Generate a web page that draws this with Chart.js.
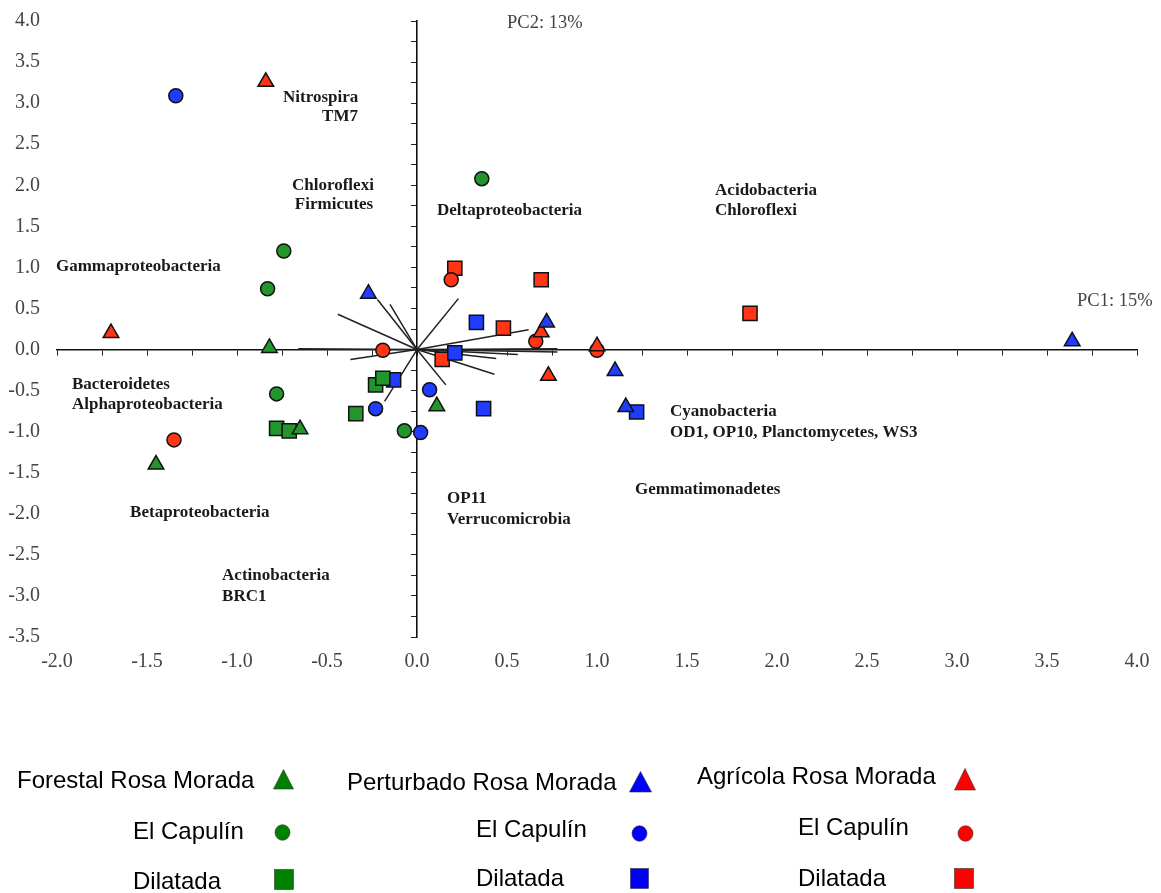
<!DOCTYPE html>
<html>
<head>
<meta charset="utf-8">
<script src="https://cdn.jsdelivr.net/npm/chart.js@4.4.1/dist/chart.umd.min.js"></script>
<style>
body { margin: 0; background: #fff; }
#wrap { position: relative; width: 1161px; height: 893px; }
#wrap canvas { position: absolute; left: 0; top: 0; }
.lg { position: absolute; font-family: "Liberation Sans", Arial, sans-serif; font-size: 24px; color: #000; line-height: 28px; white-space: nowrap; }
.mk { position: absolute; }
</style>
</head>
<body>
<div id="wrap">
  <canvas id="pca"></canvas>

  <!-- legend -->
  <div class="lg" style="left:17px; top:766px;">Forestal Rosa Morada</div>
  <div class="lg" style="left:347px; top:768px;">Perturbado Rosa Morada</div>
  <div class="lg" style="left:697px; top:762px;">Agrícola Rosa Morada</div>
  <div class="lg" style="left:133px; top:817px;">El Capulín</div>
  <div class="lg" style="left:476px; top:815px;">El Capulín</div>
  <div class="lg" style="left:798px; top:813px;">El Capulín</div>
  <div class="lg" style="left:133px; top:867px;">Dilatada</div>
  <div class="lg" style="left:476px; top:864px;">Dilatada</div>
  <div class="lg" style="left:798px; top:864px;">Dilatada</div>

  <svg class="mk" style="left:273px; top:769px;" width="21" height="21"><polygon points="10.5,0.5 20.5,20 0.5,20" fill="#008000" stroke="#333" stroke-width="0.6"/></svg>
  <svg class="mk" style="left:629px; top:771px;" width="23" height="22"><polygon points="11.5,0.5 22.5,21 0.5,21" fill="#0000ff" stroke="#333" stroke-width="0.6"/></svg>
  <svg class="mk" style="left:954px; top:768px;" width="22" height="23"><polygon points="11,0.5 21.5,22 0.5,22" fill="#ff0000" stroke="#333" stroke-width="0.6"/></svg>

  <svg class="mk" style="left:274px; top:824px;" width="17" height="17"><ellipse cx="8.5" cy="8.5" rx="7.5" ry="7.8" fill="#008000" stroke="#333" stroke-width="0.6"/></svg>
  <svg class="mk" style="left:631px; top:825px;" width="17" height="17"><ellipse cx="8.5" cy="8.5" rx="7.5" ry="7.8" fill="#0000ff" stroke="#333" stroke-width="0.6"/></svg>
  <svg class="mk" style="left:957px; top:825px;" width="17" height="17"><ellipse cx="8.5" cy="8.5" rx="7.5" ry="7.8" fill="#ff0000" stroke="#333" stroke-width="0.6"/></svg>

  <svg class="mk" style="left:274px; top:869px;" width="20" height="21"><rect x="0.5" y="0.5" width="19" height="20" fill="#008000" stroke="#333" stroke-width="0.6"/></svg>
  <svg class="mk" style="left:630px; top:868px;" width="19" height="21"><rect x="0.5" y="0.5" width="18" height="20" fill="#0000ff" stroke="#333" stroke-width="0.6"/></svg>
  <svg class="mk" style="left:954px; top:868px;" width="20" height="21"><rect x="0.5" y="0.5" width="19" height="20" fill="#ff0000" stroke="#333" stroke-width="0.6"/></svg>
</div>

<script>
// axis ranges and tick labels
const xTickValues = [-2.0, -1.5, -1.0, -0.5, 0.0, 0.5, 1.0, 1.5, 2.0, 2.5, 3.0, 3.5, 4.0];
const yTickValues = [-3.5, -3.0, -2.5, -2.0, -1.5, -1.0, -0.5, 0.0, 0.5, 1.0, 1.5, 2.0, 2.5, 3.0, 3.5, 4.0];

// sample scores [PC1, PC2]
const forestalTri = [[-0.82, 0.02], [-1.45, -1.40], [-0.65, -0.97], [0.11, -0.69]];
const forestalCirc = [[0.36, 2.08], [-0.74, 1.20], [-0.83, 0.74], [-0.78, -0.54], [-0.07, -0.99]];
const forestalSq = [[-0.78, -0.96], [-0.71, -0.99], [-0.34, -0.78], [-0.23, -0.43], [-0.19, -0.35]];

const perturbadoTri = [[3.64, 0.10], [-0.27, 0.68], [0.72, 0.33], [1.10, -0.26], [1.16, -0.70]];
const perturbadoCirc = [[-1.34, 3.09], [0.07, -0.49], [0.02, -1.01], [-0.23, -0.72]];
const perturbadoSq = [[0.33, 0.33], [0.21, -0.04], [-0.13, -0.37], [0.37, -0.72], [1.22, -0.76]];

const agricolaTri = [[-0.84, 3.26], [-1.70, 0.20], [0.69, 0.21], [1.00, 0.04], [0.73, -0.32]];
const agricolaCirc = [[-0.19, -0.01], [-1.35, -1.10], [0.19, 0.85], [0.66, 0.10], [1.00, -0.01]];
const agricolaSq = [[0.21, 0.99], [0.69, 0.85], [1.85, 0.44], [0.48, 0.26], [0.14, -0.12]];

// loading vectors (end points, all start at origin)
const vectors = [
  [-0.44, 0.43], [-0.22, 0.61], [-0.15, 0.55], [-0.66, 0.01], [-0.37, -0.12], [-0.18, -0.63],
  [0.23, 0.62], [0.62, 0.24], [0.78, 0.01], [0.78, -0.03], [0.56, -0.06], [0.44, -0.11],
  [0.43, -0.30], [0.16, -0.43]
];

// phylum labels placed in data units
const phylumLabels = [
  ['Nitrospira', -0.744, 3.07, 'left'],
  ['TM7', -0.328, 2.84, 'right'],
  ['Chloroflexi', -0.467, 2.0, 'center'],
  ['Firmicutes', -0.461, 1.77, 'center'],
  ['Gammaproteobacteria', -2.006, 1.01, 'left'],
  ['Deltaproteobacteria', 0.111, 1.695, 'left'],
  ['Acidobacteria', 1.656, 1.94, 'left'],
  ['Chloroflexi', 1.656, 1.695, 'left'],
  ['Bacteroidetes', -1.917, -0.427, 'left'],
  ['Alphaproteobacteria', -1.917, -0.67, 'left'],
  ['Cyanobacteria', 1.406, -0.756, 'left'],
  ['OD1, OP10, Planctomycetes, WS3', 1.406, -1.012, 'left'],
  ['Betaproteobacteria', -1.594, -1.988, 'left'],
  ['OP11', 0.167, -1.817, 'left'],
  ['Verrucomicrobia', 0.167, -2.073, 'left'],
  ['Gemmatimonadetes', 1.211, -1.707, 'left'],
  ['Actinobacteria', -1.083, -2.756, 'left'],
  ['BRC1', -1.083, -3.012, 'left']
];
const axisLabels = [
  ['PC2: 13%', 0.50, 3.976],
  ['PC1: 15%', 3.667, 0.585]
];

const green = '#22962a', blue = '#1f3cff', red = '#ff3516';

function pts(arr) {
  return arr.map(p => ({ x: p[0], y: p[1] }));
}

function markerSet(label, arr, color, style, radius) {
  return {
    label: label,
    data: pts(arr),
    xAxisID: 'x',
    yAxisID: 'y',
    pointStyle: style,
    pointRadius: radius,
    pointHoverRadius: radius,
    backgroundColor: color,
    borderColor: '#111',
    borderWidth: 1.5,
    order: 0
  };
}

const datasets = [];
vectors.forEach(v => {
  datasets.push({
    data: [{ x: 0, y: 0 }, { x: v[0], y: v[1] }],
    xAxisID: 'x',
    yAxisID: 'y',
    showLine: true,
    pointRadius: 0,
    borderColor: '#222',
    borderWidth: 1.5,
    order: 10
  });
});
datasets.push(markerSet('Forestal tri', forestalTri, green, 'triangle', 9));
datasets.push(markerSet('Forestal circ', forestalCirc, green, 'circle', 7));
datasets.push(markerSet('Forestal sq', forestalSq, green, 'rect', 10));
datasets.push(markerSet('Perturbado tri', perturbadoTri, blue, 'triangle', 9));
datasets.push(markerSet('Perturbado circ', perturbadoCirc, blue, 'circle', 7));
datasets.push(markerSet('Perturbado sq', perturbadoSq, blue, 'rect', 10));
datasets.push(markerSet('Agricola tri', agricolaTri, red, 'triangle', 9));
datasets.push(markerSet('Agricola circ', agricolaCirc, red, 'circle', 7));
datasets.push(markerSet('Agricola sq', agricolaSq, red, 'rect', 10));

// draws phylum names and PC labels through the scales
const textPlugin = {
  id: 'biplotText',
  afterDatasetsDraw(chart) {
    const ctx = chart.ctx;
    const sx = chart.scales.x, sy = chart.scales.y;
    ctx.save();
    ctx.textBaseline = 'middle';
    ctx.fillStyle = '#1a1a1a';
    ctx.font = 'bold 17px "Liberation Serif", serif';
    phylumLabels.forEach(l => {
      ctx.textAlign = l[3];
      ctx.fillText(l[0], sx.getPixelForValue(l[1]), sy.getPixelForValue(l[2]));
    });
    ctx.fillStyle = '#444';
    ctx.font = '18.5px "Liberation Serif", serif';
    ctx.textAlign = 'left';
    axisLabels.forEach(l => {
      ctx.fillText(l[0], sx.getPixelForValue(l[1]), sy.getPixelForValue(l[2]));
    });
    ctx.restore();
  }
};

const tickFont = { family: 'Liberation Serif', size: 20 };

new Chart(document.getElementById('pca'), {
  type: 'scatter',
  data: { datasets: datasets },
  options: {
    responsive: true,
    maintainAspectRatio: false,
    animation: false,
    layout: { padding: { left: 0, right: 24, top: 21, bottom: 216 } },
    plugins: { legend: { display: false }, tooltip: { enabled: false } },
    scales: {
      x: {
        type: 'linear', position: 'bottom', min: -2, max: 4,
        afterBuildTicks: s => { s.ticks = xTickValues.map(v => ({ value: v })); },
        afterFit: s => { s.height = 40; },
        grid: { display: false, drawTicks: true, tickLength: 13 },
        border: { display: false },
        ticks: { color: '#444', font: tickFont, padding: 0, maxRotation: 0, callback: v => Number(v).toFixed(1) }
      },
      y: {
        type: 'linear', position: 'left', min: -3.5, max: 4,
        afterBuildTicks: s => { s.ticks = yTickValues.map(v => ({ value: v })); },
        afterFit: s => { s.width = 57; },
        grid: { display: false, drawTicks: true, tickLength: 17 },
        border: { display: false },
        ticks: { color: '#444', font: tickFont, padding: 0, callback: v => Number(v).toFixed(1) }
      },
      xAxis0: {
        type: 'linear', axis: 'x', position: { y: 0 }, min: -2, max: 4,
        ticks: { display: false, stepSize: 0.25 },
        grid: { display: true, drawOnChartArea: false, drawTicks: true, tickLength: 5, tickColor: '#222', tickWidth: 1 },
        border: { display: true, color: '#111', width: 1.6 }
      },
      yAxis0: {
        type: 'linear', axis: 'y', position: { x: 0 }, min: -3.5, max: 4,
        ticks: { display: false, stepSize: 0.25 },
        grid: { display: true, drawOnChartArea: false, drawTicks: true, tickLength: 5, tickColor: '#222', tickWidth: 1 },
        border: { display: true, color: '#111', width: 1.6 }
      }
    }
  },
  plugins: [textPlugin]
});
</script>
</body>
</html>
